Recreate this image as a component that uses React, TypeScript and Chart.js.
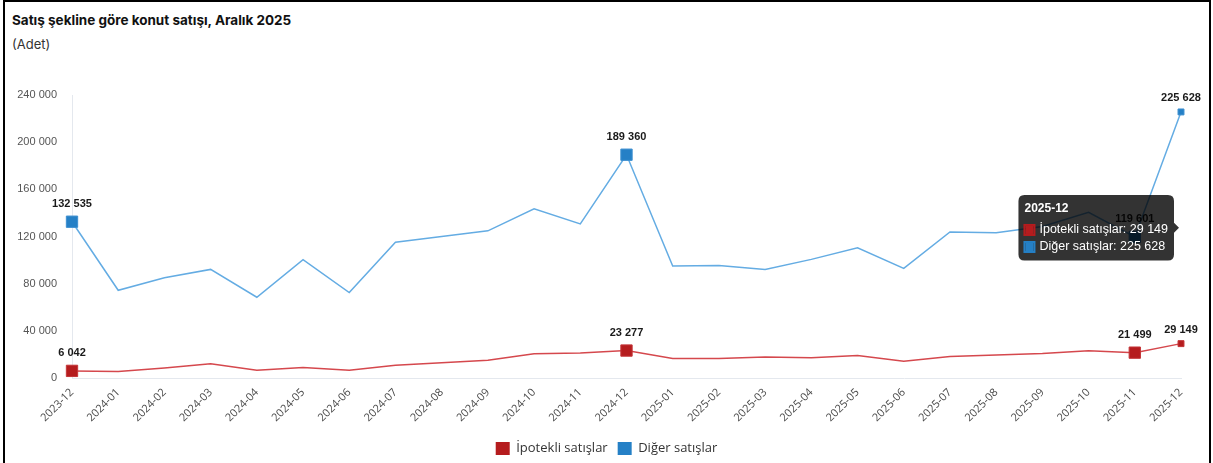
import React, { useEffect, useRef } from 'react';
import { Chart, registerables } from 'chart.js';

Chart.register(...registerables);

// ---- data ----
const categories = [
  '2023-12', '2024-01', '2024-02', '2024-03', '2024-04', '2024-05', '2024-06',
  '2024-07', '2024-08', '2024-09', '2024-10', '2024-11', '2024-12',
  '2025-01', '2025-02', '2025-03', '2025-04', '2025-05', '2025-06',
  '2025-07', '2025-08', '2025-09', '2025-10', '2025-11', '2025-12',
];
const ipotekliSatislar = [
  6042, 5500, 8500, 12000, 6500, 8800, 6500, 10800, 13000, 15000, 20500, 21200, 23277,
  16500, 16500, 17900, 17100, 19000, 14200, 18200, 19600, 20800, 23200, 21499, 29149,
];
const digerSatislar = [
  132535, 74400, 85100, 92100, 68500, 100300, 72400, 115200, 120000, 124800, 143400, 130700, 189360,
  94900, 95500, 92100, 100600, 110400, 93000, 123900, 123100, 128500, 140500, 119601, 225628,
];
const seriesNames = ['İpotekli satışlar', 'Diğer satışlar'];
const yTickValues = [0, 40000, 80000, 120000, 160000, 200000, 240000];
const highlightedIdx = [0, 12, 23];
const lastIdx = 24;
const titleText = 'Satış şekline göre konut satışı, Aralık 2025';
const subtitleText = '(Adet)';

const fmt = (n: number) => String(Math.round(n)).replace(/\B(?=(\d{3})+(?!\d))/g, ' ');

const markerColors = ['#b51c1e', '#2580c6'];
const lineColors = ['#d5484d', '#64ace3'];

export default function App() {
  const ref = useRef<HTMLCanvasElement>(null);

  useEffect(() => {
    document.body.style.margin = '0';
    const radii = categories.map((_, i) =>
      highlightedIdx.includes(i) ? 8 : i === lastIdx ? 4.2 : 0
    );

    const labelPlugin = {
      id: 'pointValueLabels',
      afterDatasetsDraw(chart: any) {
        const ctx = chart.ctx;
        ctx.save();
        ctx.font = 'bold 11px "Liberation Sans", Arial, sans-serif';
        ctx.fillStyle = '#1a1a1a';
        ctx.textAlign = 'center';
        ctx.textBaseline = 'middle';
        chart.data.datasets.forEach((ds: any, di: number) => {
          const meta = chart.getDatasetMeta(di);
          [...highlightedIdx, lastIdx].forEach((i) => {
            const el = meta.data[i];
            if (!el) return;
            const off = i === lastIdx ? 14 : 18;
            ctx.fillText(fmt(ds.data[i]), el.x, el.y - off);
          });
        });
        ctx.restore();
      },
    };

    // centre the legend on the full canvas width (the reference centres it on the page)
    const legendShift = {
      id: 'legendShift',
      afterLayout(chart: any) {
        const lg = chart.legend;
        if (!lg) return;
        const pr = chart.options.layout.padding.right || 0;
        lg.left += pr / 2;
        lg.right += pr / 2;
      },
    };

    const chart = new Chart(ref.current as HTMLCanvasElement, {
      type: 'line',
      data: {
        labels: categories,
        datasets: [
          {
            label: seriesNames[0],
            data: ipotekliSatislar,
            borderColor: lineColors[0],
            backgroundColor: markerColors[0],
            pointBackgroundColor: markerColors[0],
            pointBorderColor: '#c43538',
            pointBorderWidth: 1,
            borderWidth: 1.5,
            pointRadius: radii,
            pointHoverRadius: radii,
            pointStyle: 'rect',
            tension: 0,
          },
          {
            label: seriesNames[1],
            data: digerSatislar,
            borderColor: lineColors[1],
            backgroundColor: markerColors[1],
            pointBackgroundColor: markerColors[1],
            pointBorderColor: '#3d8fd0',
            pointBorderWidth: 1,
            borderWidth: 1.5,
            pointRadius: radii,
            pointHoverRadius: radii,
            pointStyle: 'rect',
            tension: 0,
          },
        ],
      },
      options: {
        animation: false,
        responsive: true,
        maintainAspectRatio: false,
        layout: { padding: { top: 37, right: 32, left: 0, bottom: 0 } },
        interaction: { mode: 'index', intersect: false },
        scales: {
          x: {
            grid: { display: false, drawTicks: false },
            border: { display: true, color: '#e4e8ee', width: 1 },
            ticks: {
              autoSkip: false,
              maxRotation: 45,
              minRotation: 45,
              color: '#4a4a4a',
              padding: 8,
              font: { family: '"Open Sans", sans-serif', size: 11 },
            },
            afterFit: (s: any) => {
              s.height = 54;
            },
          },
          y: {
            min: 0,
            max: 240000,
            afterBuildTicks: (s: any) => {
              s.ticks = yTickValues.map((v) => ({ value: v }));
            },
            grid: { display: false, drawTicks: false },
            border: { display: true, color: '#e4e8ee', width: 1 },
            ticks: {
              color: '#555',
              padding: 15,
              font: { family: '"Liberation Sans", Arial, sans-serif', size: 11 },
              callback: (v: any) => fmt(Number(v)),
            },
            afterFit: (s: any) => {
              s.width = 72;
            },
          },
        },
        plugins: {
          legend: {
            position: 'bottom',
            labels: {
              boxWidth: 14,
              boxHeight: 13,
              padding: 10,
              color: '#333',
              font: { family: '"Open Sans", sans-serif', size: 13 },
              generateLabels: (c: any) => {
                const items = Chart.defaults.plugins.legend.labels.generateLabels(c);
                return items.map((it: any, i: number) => ({
                  ...it,
                  fillStyle: markerColors[i],
                  strokeStyle: markerColors[i],
                  lineWidth: 0,
                }));
              },
            },
          },
          tooltip: {
            enabled: true,
            backgroundColor: 'rgba(0,0,0,0.8)',
            padding: 6,
            cornerRadius: 6,
            caretSize: 5,
            caretPadding: 2,
            titleFont: { family: '"Liberation Sans", Arial, sans-serif', size: 12, weight: 'bold' },
            bodyFont: { family: '"Liberation Sans", Arial, sans-serif', size: 12.5 },
            titleMarginBottom: 7,
            bodySpacing: 2,
            boxWidth: 10,
            boxHeight: 10,
            boxPadding: 3,
            multiKeyBackground: 'rgba(0,0,0,0)',
            callbacks: {
              label: (ctx: any) => `${ctx.dataset.label}: ${fmt(ctx.parsed.y)}`,
              labelColor: (ctx: any) => ({
                borderColor: markerColors[ctx.datasetIndex],
                backgroundColor: markerColors[ctx.datasetIndex],
                borderWidth: 2,
              }),
            },
          },
        },
      },
      plugins: [labelPlugin, legendShift],
    } as any);

    chart.tooltip?.setActiveElements(
      [
        { datasetIndex: 0, index: lastIdx },
        { datasetIndex: 1, index: lastIdx },
      ],
      { x: 0, y: 0 }
    );
    chart.update();

    return () => chart.destroy();
  }, []);

  return (
    <div
      style={{
        position: 'fixed',
        left: 0,
        top: 0,
        width: 1213,
        height: 463,
        overflow: 'hidden',
        background: '#fff',
      }}
    >
      <div
        style={{
          position: 'absolute',
          left: 3,
          top: 0,
          width: 1204,
          height: 470,
          borderTop: '2px solid #000',
          borderLeft: '2px solid #000',
          borderRight: '2px solid #000',
        }}
      />
      <div
        style={{
          position: 'absolute',
          left: 12,
          top: 12,
          font: 'bold 13.5px Inter, "Liberation Sans", sans-serif',
          lineHeight: '16px',
          color: '#111',
          whiteSpace: 'nowrap',
        }}
      >
        {titleText}
      </div>
      <div
        style={{
          position: 'absolute',
          left: 12,
          top: 36,
          font: '13px Inter, "Liberation Sans", sans-serif',
          lineHeight: '16px',
          color: '#333',
        }}
      >
        {subtitleText}
      </div>
      <div style={{ position: 'absolute', left: 0, top: 58, width: 1213, height: 407 }}>
        <canvas ref={ref} />
      </div>
    </div>
  );
}
